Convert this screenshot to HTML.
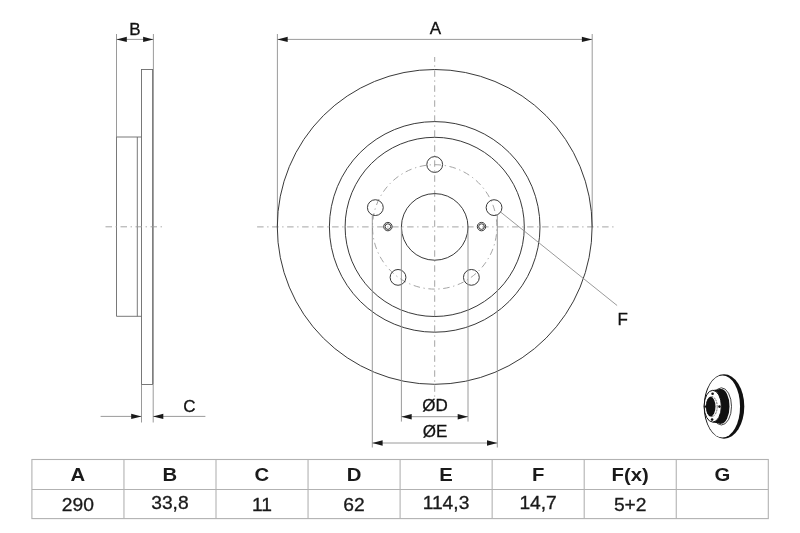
<!DOCTYPE html>
<html lang="en">
<head>
<meta charset="utf-8">
<title>Brake disc dimensions</title>
<style>
html,body{margin:0;padding:0;background:#fff;}
body{width:800px;height:533px;overflow:hidden;font-family:"Liberation Sans",sans-serif;}
svg{display:block;opacity:0.999;will-change:transform;}
.dark{stroke:#2e2e2e;stroke-width:0.95;fill:none;}
.side{stroke:#6a6a6a;stroke-width:0.9;fill:none;}
.ext{stroke:#8e8e8e;stroke-width:0.9;fill:none;}
.cl{stroke:#9a9a9a;stroke-width:0.9;fill:none;stroke-dasharray:6.5 3.6 1.3 3.6;}
.arr{fill:#1a1a1a;stroke:none;}
.lbl{font-family:"Liberation Sans",sans-serif;font-size:17px;fill:#111;stroke:#111;stroke-width:0.3;text-anchor:middle;}
.th{font-family:"Liberation Sans",sans-serif;font-size:17.5px;font-weight:bold;fill:#1a1a1a;text-anchor:middle;}
.td{font-family:"Liberation Sans",sans-serif;font-size:17.5px;fill:#1a1a1a;stroke:#1a1a1a;stroke-width:0.3;text-anchor:middle;}
.grid{stroke:#b2b2b2;stroke-width:1.1;fill:none;}
</style>
</head>
<body>
<svg width="800" height="533" viewBox="0 0 800 533">
<rect width="800" height="533" fill="#fff"/>

<!-- side view -->
<g id="sideview">
  <line class="ext" x1="116.5" y1="34" x2="116.5" y2="137"/>
  <line class="ext" x1="153.4" y1="34" x2="153.4" y2="384.5"/>
  <line class="ext" x1="116.5" y1="39.4" x2="153.4" y2="39.4"/>
  <polygon class="arr" points="116.5,39.4 126.8,36.7 126.8,42.1"/>
  <polygon class="arr" points="153.4,39.4 143.1,36.7 143.1,42.1"/>
  <text class="lbl" x="134.9" y="34.6">B</text>

  <rect class="side" x="141.5" y="69.5" width="11.1" height="315"/>
  <path class="side" d="M141.5 137H116.5V316.3H141.5"/>
  <line class="side" x1="137.3" y1="137" x2="137.3" y2="316.3"/>
  <line class="cl" x1="105.5" y1="226.8" x2="163" y2="226.8"/>

  <line class="ext" x1="141.5" y1="384.5" x2="141.5" y2="422.5"/>
  <line class="ext" x1="153.2" y1="384.5" x2="153.2" y2="422.5"/>
  <line class="ext" x1="100.6" y1="416.4" x2="141.5" y2="416.4"/>
  <line class="ext" x1="153" y1="416.4" x2="205.4" y2="416.4"/>
  <polygon class="arr" points="141.5,416.4 131.2,413.7 131.2,419.1"/>
  <polygon class="arr" points="153,416.4 163.3,413.7 163.3,419.1"/>
  <text class="lbl" x="189.5" y="411.7">C</text>
</g>

<!-- front view -->
<g id="frontview">
  <line class="ext" x1="277.4" y1="34" x2="277.4" y2="227"/>
  <line class="ext" x1="592.2" y1="34" x2="592.2" y2="227"/>
  <line class="ext" x1="277.4" y1="39.4" x2="592.2" y2="39.4"/>
  <polygon class="arr" points="277.4,39.4 287.7,36.7 287.7,42.1"/>
  <polygon class="arr" points="592.2,39.4 581.9,36.7 581.9,42.1"/>
  <text class="lbl" x="435.3" y="34.3">A</text>

  <line class="cl" x1="257.1" y1="226.9" x2="613.5" y2="226.9"/>
  <line class="cl" x1="434.7" y1="57" x2="434.7" y2="398" stroke-dashoffset="1.7"/>
  <circle class="cl" cx="434.7" cy="226.9" r="62.2" stroke-dasharray="5.5 2.8 1.1 2.81" transform="rotate(-90 434.7 226.9)"/>

  <circle class="dark" cx="434.7" cy="226.9" r="157.4"/>
  <circle class="dark" cx="434.7" cy="226.9" r="105.3"/>
  <circle class="dark" cx="434.7" cy="226.9" r="89.6"/>
  <circle class="dark" cx="434.7" cy="226.9" r="33.3"/>

  <!-- bolt holes -->
  <circle class="dark" cx="434.7" cy="164.5" r="7.9"/>
  <circle class="dark" cx="494.05" cy="207.62" r="7.9"/>
  <circle class="dark" cx="471.38" cy="277.38" r="7.9"/>
  <circle class="dark" cx="398.02" cy="277.38" r="7.9"/>
  <circle class="dark" cx="375.35" cy="207.62" r="7.9"/>
  <!-- small holes -->
  <circle class="dark" cx="387.9" cy="226.6" r="4.2"/>
  <circle class="dark" cx="387.9" cy="226.6" r="2.8"/>
  <circle class="dark" cx="481.5" cy="226.6" r="4.2"/>
  <circle class="dark" cx="481.5" cy="226.6" r="2.8"/>

  <!-- D / E extension lines -->
  <line class="ext" x1="401.4" y1="227" x2="401.4" y2="421.6"/>
  <line class="ext" x1="468" y1="227" x2="468" y2="421.6"/>
  <line class="ext" x1="372.3" y1="214.6" x2="372.3" y2="447.5"/>
  <line class="ext" x1="497.3" y1="214.2" x2="497.3" y2="447.5"/>
  <line class="ext" x1="401.4" y1="416.7" x2="468" y2="416.7"/>
  <line class="ext" x1="372.3" y1="443" x2="497.3" y2="443"/>
  <polygon class="arr" points="401.4,416.7 411.7,414.0 411.7,419.4"/>
  <polygon class="arr" points="468,416.7 457.7,414.0 457.7,419.4"/>
  <polygon class="arr" points="372.3,443 382.6,440.3 382.6,445.7"/>
  <polygon class="arr" points="497.3,443 487,440.3 487,445.7"/>
  <text class="lbl" x="435.1" y="411.2">ØD</text>
  <text class="lbl" x="435" y="437.4">ØE</text>

  <!-- leader F -->
  <line class="ext" x1="500.4" y1="211.9" x2="617.1" y2="305.5"/>
  <text class="lbl" x="622.6" y="325.2">F</text>
</g>

<!-- small disc pictogram -->
<g id="icon">
  <ellipse cx="724" cy="406.5" rx="20.3" ry="32.2" fill="#111"/>
  <ellipse cx="722.45" cy="406.5" rx="17.6" ry="31.1" fill="#fff"/>
  <ellipse cx="721.4" cy="406.4" rx="10.1" ry="18.6" fill="#fff" stroke="#111" stroke-width="0.8"/>
  <ellipse cx="721" cy="406.4" rx="8.5" ry="17.4" fill="#111"/>
  <path d="M712.8 390 L721 389 V423.8 L712.8 422.4 Z" fill="#111"/>
  <ellipse cx="712.75" cy="406.2" rx="8.6" ry="15.9" fill="#fff" stroke="#111" stroke-width="1"/>
  <ellipse cx="711.7" cy="406.6" rx="5.5" ry="10" fill="#fff" stroke="#111" stroke-width="0.6" stroke-dasharray="2 0.8"/>
  <ellipse cx="710.7" cy="406.6" rx="4.8" ry="9.8" fill="#111"/>
  <circle cx="712.6" cy="393.7" r="1.3" fill="#111"/>
  <circle cx="712.1" cy="419.6" r="1.3" fill="#111"/>
  <circle cx="719.5" cy="406.6" r="1.3" fill="#111"/>
  <circle cx="705.2" cy="406.6" r="1.1" fill="#111"/>
</g>

<!-- table -->
<g id="table">
  <rect class="grid" x="31.9" y="459.5" width="736.4" height="59.1"/>
  <line class="grid" x1="31.9" y1="489.5" x2="768.3" y2="489.5"/>
  <line class="grid" x1="123.95" y1="459.5" x2="123.95" y2="518.6"/>
  <line class="grid" x1="216.00" y1="459.5" x2="216.00" y2="518.6"/>
  <line class="grid" x1="308.05" y1="459.5" x2="308.05" y2="518.6"/>
  <line class="grid" x1="400.10" y1="459.5" x2="400.10" y2="518.6"/>
  <line class="grid" x1="492.15" y1="459.5" x2="492.15" y2="518.6"/>
  <line class="grid" x1="584.20" y1="459.5" x2="584.20" y2="518.6"/>
  <line class="grid" x1="676.25" y1="459.5" x2="676.25" y2="518.6"/>

  <text class="th" transform="translate(77.9 481.3) scale(1.16 1)">A</text>
  <text class="th" transform="translate(169.9 481.3) scale(1.16 1)">B</text>
  <text class="th" transform="translate(261.9 481.3) scale(1.16 1)">C</text>
  <text class="th" transform="translate(354 481.3) scale(1.16 1)">D</text>
  <text class="th" transform="translate(446 481.3) scale(1.16 1)">E</text>
  <text class="th" transform="translate(538.1 481.3) scale(1.16 1)">F</text>
  <text class="th" transform="translate(630.2 481.3) scale(1.16 1)">F(x)</text>
  <text class="th" transform="translate(722.4 481.3) scale(1.16 1)">G</text>

  <text class="td" transform="translate(77.9 510.6) scale(1.10 1)">290</text>
  <text class="td" transform="translate(169.9 508.8) scale(1.10 1)">33,8</text>
  <text class="td" transform="translate(261.9 510.6) scale(1.10 1)">11</text>
  <text class="td" transform="translate(354 510.6) scale(1.10 1)">62</text>
  <text class="td" transform="translate(446 508.8) scale(1.10 1)">114,3</text>
  <text class="td" transform="translate(538.1 508.8) scale(1.10 1)">14,7</text>
  <text class="td" transform="translate(630.2 510.6) scale(1.10 1)">5+2</text>
</g>
</svg>
</body>
</html>
